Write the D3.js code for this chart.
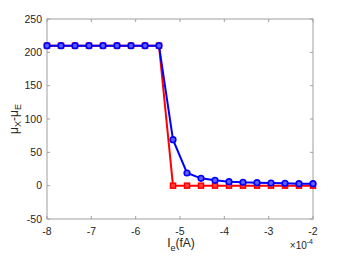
<!DOCTYPE html>
<html><head><meta charset="utf-8">
<script src="https://cdn.jsdelivr.net/npm/d3@7"></script>
<style>body{margin:0;background:#fff;} text{font-family:"Liberation Sans",Arial,sans-serif;}</style>
</head><body>
<svg id="c" width="346" height="260"></svg>
<script>
const xValues = [-8,-7.6842,-7.3684,-7.0526,-6.7368,-6.4211,-6.1053,-5.7895,-5.4737,-5.1579,-4.8421,-4.5263,-4.2105,-3.8947,-3.5789,-3.2632,-2.9474,-2.6316,-2.3158,-2];
const blueValues = [210,210,210,210,210,210,210,210,210,69,19,11,8,6,5,4.5,4,3.5,3,3];
const redValues  = [210,210,210,210,210,210,210,210,210,0,0,0,0,0,0,0,0,0,0,0];
const xTicks = [-8,-7,-6,-5,-4,-3,-2];
const yTicks = [-50,0,50,100,150,200,250];

const svg = d3.select("#c");
const L=47,R=313,T=19,B=219;
const x = d3.scaleLinear().domain([-8,-2]).range([L,R]);
const y = d3.scaleLinear().domain([-50,250]).range([B,T]);
const axisCol="#a0a0a0", textCol="#262626";

svg.append("rect").attr("x",L).attr("y",T).attr("width",R-L).attr("height",B-T)
  .attr("fill","none").attr("stroke",axisCol).attr("stroke-width",1);

const tl=3;
xTicks.forEach(t=>{
  svg.append("line").attr("x1",x(t)).attr("x2",x(t)).attr("y1",B).attr("y2",B-tl).attr("stroke",axisCol);
  svg.append("line").attr("x1",x(t)).attr("x2",x(t)).attr("y1",T).attr("y2",T+tl).attr("stroke",axisCol);
  svg.append("text").attr("x",x(t)).attr("y",234.5).attr("text-anchor","middle")
    .attr("font-size",10.5).attr("fill",textCol).text(t);
});
yTicks.forEach(t=>{
  svg.append("line").attr("x1",L).attr("x2",L+tl).attr("y1",y(t)).attr("y2",y(t)).attr("stroke",axisCol);
  svg.append("line").attr("x1",R).attr("x2",R-tl).attr("y1",y(t)).attr("y2",y(t)).attr("stroke",axisCol);
  svg.append("text").attr("x",42).attr("y",y(t)+3.7).attr("text-anchor","end")
    .attr("font-size",10.5).attr("fill",textCol).text(t);
});

const xl = svg.append("text").attr("x",181).attr("y",247).attr("text-anchor","middle")
  .attr("font-size",12).attr("fill",textCol);
xl.append("tspan").text("I");
xl.append("tspan").attr("dy",4).attr("font-size",9).text("e");
xl.append("tspan").attr("dy",-4).text("(fA)");

const ex = svg.append("text").attr("x",313).attr("y",248.5).attr("text-anchor","end")
  .attr("font-size",10).attr("fill",textCol);
ex.append("tspan").text("\u00d710");
ex.append("tspan").attr("dy",-4.5).attr("font-size",7).text("-4");

const yl = svg.append("text").attr("transform","translate(18,"+((T+B)/2)+") rotate(-90)")
  .attr("text-anchor","middle").attr("font-size",12).attr("fill",textCol);
yl.append("tspan").text("\u03bc");
yl.append("tspan").attr("dy",3).attr("font-size",9).text("X");
yl.append("tspan").attr("dy",-3).text("-\u03bc");
yl.append("tspan").attr("dy",3).attr("font-size",9).text("E");

const line = d3.line().x(d=>x(d[0])).y(d=>y(d[1]));
const red = xValues.map((v,i)=>[v,redValues[i]]);
const blue = xValues.map((v,i)=>[v,blueValues[i]]);

svg.append("path").datum(red).attr("d",line).attr("fill","none").attr("stroke","#ff0000").attr("stroke-width",2);
svg.selectAll(".sq").data(red).enter().append("rect")
  .attr("x",d=>x(d[0])-2.5).attr("y",d=>y(d[1])-2.5).attr("width",5).attr("height",5)
  .attr("fill","#ff4040").attr("stroke","#ff0000").attr("stroke-width",1.5);

svg.append("path").datum(blue).attr("d",line).attr("fill","none").attr("stroke","#0000ff").attr("stroke-width",2);
svg.selectAll(".ci").data(blue).enter().append("circle")
  .attr("cx",d=>x(d[0])).attr("cy",d=>y(d[1])).attr("r",2.8)
  .attr("fill","#6060ff").attr("stroke","#0000ff").attr("stroke-width",1.6);
</script>
</body></html>
